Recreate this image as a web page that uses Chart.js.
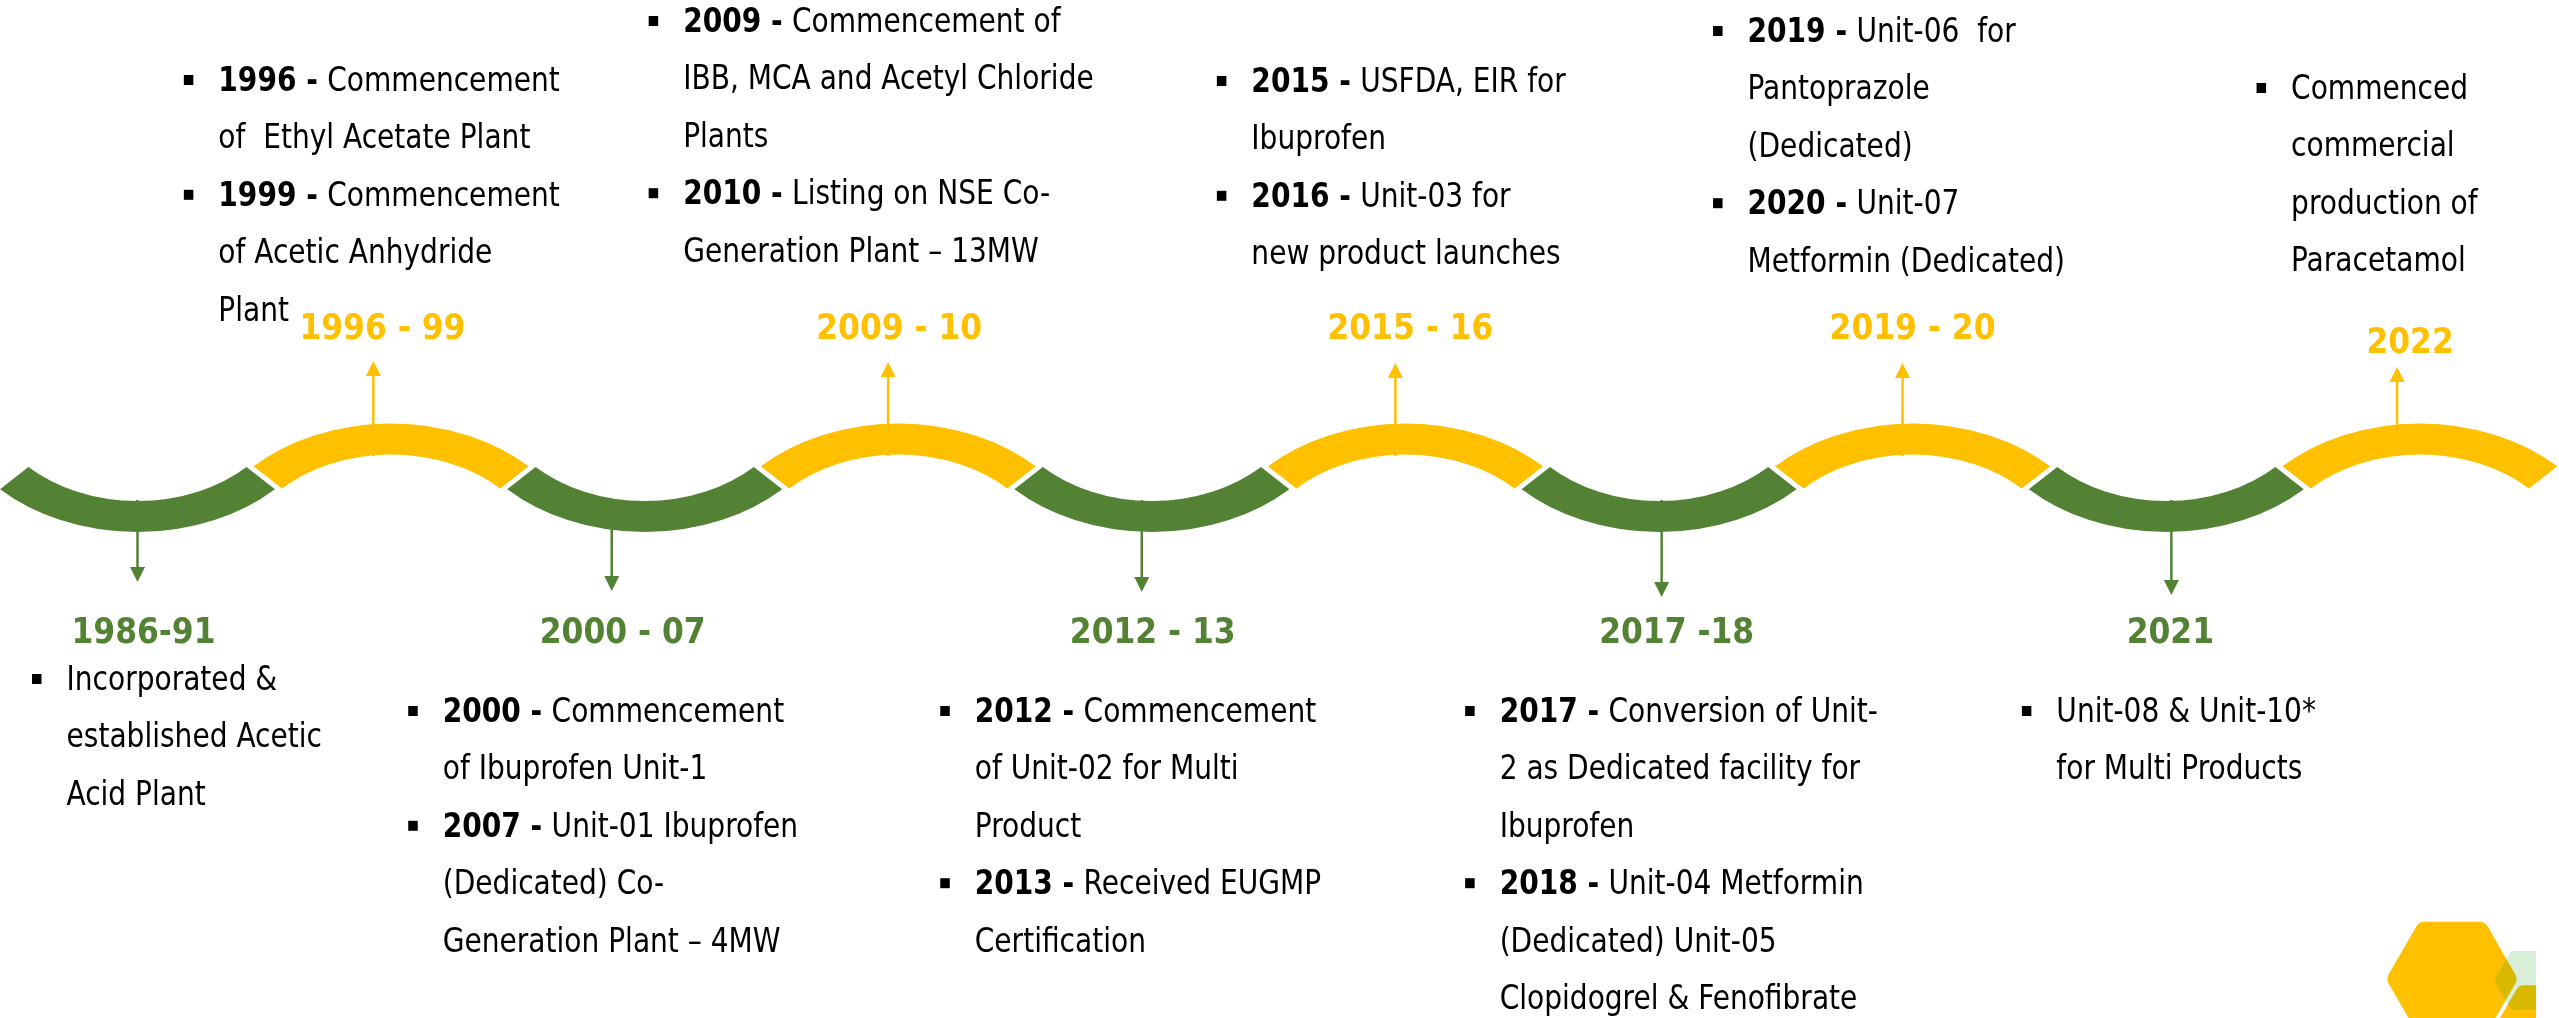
<!DOCTYPE html>
<html>
<head>
<meta charset="utf-8">
<script src="https://cdn.jsdelivr.net/npm/chart.js@4.4.1/dist/chart.umd.min.js"></script>
<style>
html,body{margin:0;padding:0;background:#ffffff;overflow:hidden}
#wrap{position:relative;width:2559px;height:1018px}
</style>
</head>
<body>
<div id="wrap"><canvas id="c"></canvas></div>
<script>
// ---------------- DATA ----------------
const periods = ['1986-91','1996 - 99','2000 - 07','2009 - 10','2012 - 13','2015 - 16','2017 -18','2019 - 20','2021','2022'];
const periodSide = ['down','up','down','up','down','up','down','up','down','up'];
// wave segment centres on the x axis (one segment per period)
const segmentSlots = [0,1,2,3,4,5,6,7,8,9];
// position of each milestone marker on the same axis
const markerPos = [0.00,0.93,1.87,2.96,3.96,4.96,6.01,6.96,8.02,8.91];

const events1986 = [{year:'', lines:['Incorporated &','established Acetic','Acid Plant']}];
const events1996 = [{year:'1996 -', lines:['Commencement','of  Ethyl Acetate Plant']},
                    {year:'1999 -', lines:['Commencement','of Acetic Anhydride','Plant']}];
const events2000 = [{year:'2000 -', lines:['Commencement','of Ibuprofen Unit-1']},
                    {year:'2007 -', lines:['Unit-01 Ibuprofen','(Dedicated) Co-','Generation Plant \u2013 4MW']}];
const events2009 = [{year:'2009 -', lines:['Commencement of','IBB, MCA and Acetyl Chloride','Plants']},
                    {year:'2010 -', lines:['Listing on NSE Co-','Generation Plant \u2013 13MW']}];
const events2012 = [{year:'2012 -', lines:['Commencement','of Unit-02 for Multi','Product']},
                    {year:'2013 -', lines:['Received EUGMP','Certification']}];
const events2015 = [{year:'2015 -', lines:['USFDA, EIR for','Ibuprofen']},
                    {year:'2016 -', lines:['Unit-03 for','new product launches']}];
const events2017 = [{year:'2017 -', lines:['Conversion of Unit-','2 as Dedicated facility for','Ibuprofen']},
                    {year:'2018 -', lines:['Unit-04 Metformin','(Dedicated) Unit-05','Clopidogrel & Fenofibrate']}];
const events2019 = [{year:'2019 -', lines:['Unit-06  for','Pantoprazole','(Dedicated)']},
                    {year:'2020 -', lines:['Unit-07','Metformin (Dedicated)']}];
const events2021 = [{year:'', lines:['Unit-08 & Unit-10*','for Multi Products']}];
const events2022 = [{year:'', lines:['Commenced','commercial','production of','Paracetamol']}];
const periodEvents = [events1986,events1996,events2000,events2009,events2012,events2015,events2017,events2019,events2021,events2022];

// ---------------- STYLE / LAYOUT ----------------
const GREEN = '#548235';
const YELLOW = '#FFC000';
const L = {
  W: 2559, H: 1018,
  xMin: -137.5/253.6, xMax: (2559-137.5)/253.6,
  greenMidRow: 516.5, yellowMidRow: 439,
  ry: 134.5, sx: 1.31, thick: 31, half: 44.4*Math.PI/180,
  tipRow:   [582,361,591,362,592,363,597,363,595,367],
  labelDx:  [6,9,11,11,11,15,15,10,-1,13],
  labelRow: [643,339,643,339,643,339,643,339,643,353],
  blockDx:  [-101,-185,-199,-235,-197,-174,-192,-185,-145,-136],
  firstRow: [690,91,722,32,722,92,722,42,722,99],
  lineH: 57.4, textIndent: 30
};

function hasFont(name){
  const c = document.createElement('canvas').getContext('2d');
  const s = 'Commencement 1996 WgMil';
  c.font = '40px monospace'; const a = c.measureText(s).width;
  c.font = '40px "'+name+'", monospace'; const b = c.measureText(s).width;
  c.font = '40px serif'; const a2 = c.measureText(s).width;
  c.font = '40px "'+name+'", serif'; const b2 = c.measureText(s).width;
  return Math.abs(a-b) > 0.5 || Math.abs(a2-b2) > 0.5;
}
const narrowOK = hasFont('Liberation Sans Narrow');
const bodyFam = narrowOK ? '"Liberation Sans Narrow"' :
                (hasFont('DejaVu Sans Condensed') ? '"DejaVu Sans Condensed"' : '"Liberation Sans"');
const bodyStretch = narrowOK ? 1.0 : 1.1;
const labelFam = hasFont('DejaVu Sans Condensed') ? '"DejaVu Sans Condensed"' : '"DejaVu Sans"';

function fitSize(weight, fam, text, target, base){
  const c = document.createElement('canvas').getContext('2d');
  c.font = weight+' '+base+'px '+fam;
  const w = c.measureText(text).width;
  return base * target / w;
}
const bodySize = Math.max(26, Math.min(38, fitSize('normal', bodyFam, 'Commencement', 233, 34)));
const labelSize = Math.max(28, Math.min(38, fitSize('bold', labelFam, '1996 - 99', 166, 34)));

function hexPath(ctx, cx, cy, R, r){
  const pts = [];
  for (let k=0;k<6;k++){ const a = Math.PI/3*k; pts.push([cx+R*Math.cos(a), cy+R*Math.sin(a)]); }
  const mid = (p,q)=>[(p[0]+q[0])/2,(p[1]+q[1])/2];
  ctx.beginPath();
  const m0 = mid(pts[5], pts[0]);
  ctx.moveTo(m0[0], m0[1]);
  for (let k=0;k<6;k++){
    const p = pts[k], q = pts[(k+1)%6], mq = mid(p,q);
    ctx.arcTo(p[0], p[1], mq[0], mq[1], r);
  }
  ctx.closePath();
}

const timelinePlugin = {
  id: 'timeline',
  afterDatasetsDraw(chart){
    const ctx = chart.ctx;
    const xs = chart.scales.x, ys = chart.scales.y;
    const px = v => xs.getPixelForValue(v);
    const py = v => ys.getPixelForValue(v);
    ctx.save();

    // stems + arrowheads (drawn first, wave on top)
    markerPos.forEach((m,i)=>{
      const up = periodSide[i]==='up';
      const X = px(m);
      const col = up ? YELLOW : GREEN;
      const tip = py(L.tipRow[i]);
      const base = up ? tip + 15 : tip - 15;
      const start = up ? py(456) : py(500);
      ctx.strokeStyle = col; ctx.fillStyle = col; ctx.lineWidth = 2.5;
      ctx.beginPath(); ctx.moveTo(X, start); ctx.lineTo(X, base); ctx.stroke();
      ctx.beginPath(); ctx.moveTo(X, tip); ctx.lineTo(X-7.5, base); ctx.lineTo(X+7.5, base); ctx.closePath(); ctx.fill();
    });

    // wave segments (scaled block arcs)
    segmentSlots.forEach((s,i)=>{
      const up = periodSide[i]==='up';
      const cx = px(s);
      const cy = up ? py(L.yellowMidRow + L.ry) : py(L.greenMidRow - L.ry);
      ctx.save();
      ctx.translate(cx, cy);
      ctx.scale(L.sx, 1);
      const midA = up ? -Math.PI/2 : Math.PI/2;
      ctx.beginPath();
      ctx.arc(0, 0, L.ry, midA - L.half, midA + L.half);
      ctx.lineWidth = L.thick; ctx.lineCap = 'butt';
      ctx.strokeStyle = up ? YELLOW : GREEN;
      ctx.stroke();
      ctx.restore();
    });

    // period labels
    ctx.textAlign = 'center'; ctx.textBaseline = 'alphabetic';
    ctx.font = 'bold ' + labelSize.toFixed(1) + 'px ' + labelFam;
    periods.forEach((p,i)=>{
      const up = periodSide[i]==='up';
      ctx.fillStyle = up ? YELLOW : GREEN;
      ctx.fillText(p, px(markerPos[i]) + L.labelDx[i], py(L.labelRow[i]));
    });

    // event text blocks
    ctx.textAlign = 'left';
    const regF = bodySize.toFixed(1) + 'px ' + bodyFam;
    const boldF = 'bold ' + bodySize.toFixed(1) + 'px ' + bodyFam;
    function stretchedText(t, x, y){
      ctx.save(); ctx.translate(x, y); ctx.scale(1, bodyStretch); ctx.fillText(t, 0, 0); ctx.restore();
    }
    periodEvents.forEach((evs,i)=>{
      const bx = px(markerPos[i]) + L.blockDx[i];
      const tx = bx + L.textIndent;
      let row = L.firstRow[i];
      evs.forEach(ev=>{
        const y0 = py(row);
        ctx.fillStyle = '#000000';
        ctx.fillRect(bx - 4.5, y0 - 16, 9.5, 10);
        ev.lines.forEach((ln,k)=>{
          const y = py(row);
          let x = tx;
          if (k===0 && ev.year){
            ctx.font = boldF; stretchedText(ev.year, x, y);
            x += ctx.measureText(ev.year).width;
            ctx.font = regF; x += ctx.measureText(' ').width * 1.05;
          }
          ctx.font = regF; stretchedText(ln, x, y);
          row += L.lineH;
        });
      });
    });

    // decorative hexagons, bottom right (clipped like the source graphic)
    ctx.save();
    ctx.beginPath(); ctx.rect(0, 0, px(L.xMin) + 2536, L.H); ctx.clip();
    ctx.fillStyle = YELLOW;
    hexPath(ctx, px(L.xMin) + 2452, py(979), 66, 10); ctx.fill();
    hexPath(ctx, px(L.xMin) + 2551, py(1041), 66, 10); ctx.fill();
    ctx.strokeStyle = '#ffffff'; ctx.lineWidth = 3; ctx.stroke();
    ctx.fillStyle = 'rgba(0,141,0,0.15)';
    hexPath(ctx, px(L.xMin) + 2528, py(980.5), 34, 6); ctx.fill();
    ctx.restore();

    ctx.restore();
  }
};

new Chart(document.getElementById('c'), {
  type: 'scatter',
  data: {
    datasets: [{
      label: 'milestones',
      data: markerPos.map((m,i)=>({x:m, y: L.labelRow[i]})),
      pointRadius: 0, showLine: false
    }]
  },
  options: {
    responsive: true, maintainAspectRatio: false, animation: false,
    devicePixelRatio: 1,
    layout: {padding: 0},
    plugins: {legend: {display:false}, tooltip: {enabled:false}, title: {display:false}},
    events: [],
    scales: {
      x: {type:'linear', min: L.xMin, max: L.xMax, display: false},
      y: {type:'linear', min: 0, max: L.H, reverse: true, display: false}
    }
  },
  plugins: [timelinePlugin]
});
</script>
</body>
</html>
